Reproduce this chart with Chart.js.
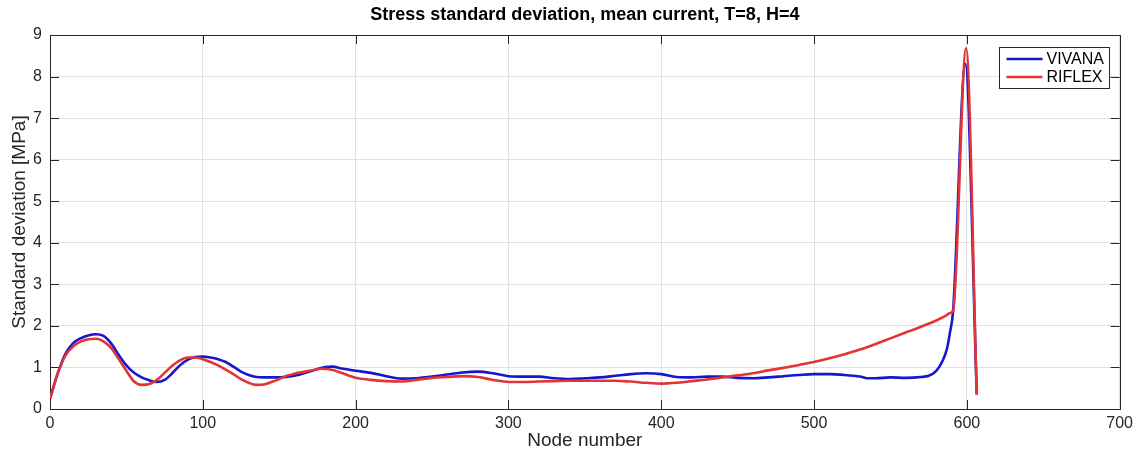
<!DOCTYPE html>
<html>
<head>
<meta charset="utf-8">
<script src="https://cdn.jsdelivr.net/npm/chart.js@4.4.1/dist/chart.umd.min.js"></script>
<style>
  html, body { margin: 0; padding: 0; background: #ffffff; }
  #wrap { width: 1138px; height: 455px; }
</style>
</head>
<body>
<div id="wrap"><canvas id="c" width="1138" height="455"></canvas></div>
<script>
// Stress standard deviation along the riser, node by node
const vivanaNodes = [0, 5, 10, 15, 20, 25, 30, 35, 40, 45, 50, 55, 60, 65, 70, 75, 80, 85, 90, 95,
  100, 105, 110, 115, 120, 125, 130, 135, 140, 150, 160, 170, 180, 185, 190, 200, 210, 220, 230, 240,
  250, 260, 270, 280, 290, 300, 310, 320, 330, 340, 350, 360, 370, 380, 390, 400, 410, 420, 430, 440,
  450, 460, 470, 480, 490, 500, 510, 520, 530, 535, 540, 550, 560, 570, 575, 580, 584, 587, 589, 591,
  599, 606.5];
const vivanaStd = [0.25, 0.85, 1.32, 1.58, 1.70, 1.77, 1.80, 1.76, 1.58, 1.30, 1.05, 0.87, 0.76, 0.69, 0.65, 0.70, 0.86, 1.05, 1.18, 1.25,
  1.26, 1.24, 1.20, 1.13, 1.02, 0.90, 0.82, 0.77, 0.76, 0.76, 0.80, 0.90, 1.01, 1.02, 0.98, 0.92, 0.87, 0.79, 0.73, 0.74,
  0.78, 0.83, 0.88, 0.90, 0.86, 0.79, 0.78, 0.78, 0.74, 0.72, 0.74, 0.76, 0.80, 0.84, 0.86, 0.84, 0.77, 0.76, 0.78, 0.78,
  0.75, 0.74, 0.76, 0.79, 0.82, 0.84, 0.84, 0.82, 0.78, 0.74, 0.74, 0.76, 0.75, 0.77, 0.80, 0.92, 1.15, 1.45, 1.85, 2.36,
  8.30, 0.35];

const riflexNodes = [0, 5, 10, 15, 20, 25, 30, 35, 40, 45, 50, 55, 60, 65, 70, 75, 80, 85, 90, 95,
  100, 105, 110, 115, 120, 125, 130, 135, 140, 145, 150, 155, 160, 170, 178, 185, 190, 200, 210, 220,
  230, 240, 250, 260, 270, 280, 290, 300, 310, 320, 330, 340, 350, 360, 370, 380, 390, 400, 410, 420,
  430, 440, 450, 460, 470, 480, 490, 500, 510, 520, 530, 540, 550, 560, 570, 580, 586, 589, 591, 599.5, 606.5];
const riflexStd = [0.25, 0.85, 1.28, 1.50, 1.62, 1.68, 1.69, 1.63, 1.47, 1.20, 0.92, 0.66, 0.58, 0.60, 0.70, 0.87, 1.04, 1.17, 1.24, 1.24,
  1.20, 1.13, 1.05, 0.95, 0.84, 0.72, 0.63, 0.58, 0.59, 0.65, 0.72, 0.80, 0.85, 0.92, 0.97, 0.94, 0.88, 0.75, 0.70, 0.67,
  0.66, 0.70, 0.75, 0.77, 0.79, 0.77, 0.70, 0.65, 0.65, 0.66, 0.67, 0.68, 0.68, 0.68, 0.68, 0.66, 0.63, 0.61, 0.63, 0.67,
  0.71, 0.76, 0.81, 0.86, 0.93, 0.99, 1.06, 1.13, 1.22, 1.32, 1.43, 1.56, 1.70, 1.84, 1.98, 2.13, 2.24, 2.31, 2.36, 8.68, 0.35];

const xTickValues = [0, 100, 200, 300, 400, 500, 600, 700];
const yTickValues = [0, 1, 2, 3, 4, 5, 6, 7, 8, 9];

const titleText = 'Stress standard deviation, mean current, T=8, H=4';
const xLabel = 'Node number';
const yLabel = 'Standard deviation [MPa]';

const FONT = "'Liberation Sans', Arial, Helvetica, sans-serif";
const AXIS_COLOR = '#262626';
const TICK_LEN = 9;

function toPoints(xs, ys) {
  return xs.map((x, i) => ({ x: x, y: ys[i] }));
}

// Axes frame with inward tick marks on all four sides
const frameAndTicks = {
  id: 'frameAndTicks',
  beforeDatasetsDraw(chart) {
    const { ctx, chartArea: a, scales: { x, y } } = chart;
    ctx.save();
    ctx.strokeStyle = AXIS_COLOR;
    ctx.lineWidth = 1;
    ctx.beginPath();
    xTickValues.forEach(v => {
      const px = Math.round(x.getPixelForValue(v)) + 0.5;
      ctx.moveTo(px, a.bottom); ctx.lineTo(px, a.bottom - TICK_LEN);
      ctx.moveTo(px, a.top); ctx.lineTo(px, a.top + TICK_LEN);
    });
    yTickValues.forEach(v => {
      const py = Math.round(y.getPixelForValue(v)) + 0.5;
      ctx.moveTo(a.left, py); ctx.lineTo(a.left + TICK_LEN, py);
      ctx.moveTo(a.right, py); ctx.lineTo(a.right - TICK_LEN, py);
    });
    ctx.stroke();
    ctx.strokeRect(Math.round(a.left) + 0.5, Math.round(a.top) + 0.5,
      Math.round(a.right - a.left), Math.round(a.bottom - a.top));
    ctx.restore();
  }
};

// Title centred over the axes
const axesTitle = {
  id: 'axesTitle',
  afterDraw(chart) {
    const { ctx, chartArea: a } = chart;
    ctx.save();
    ctx.fillStyle = '#000000';
    ctx.font = 'bold 18px ' + FONT;
    ctx.textAlign = 'center';
    ctx.textBaseline = 'middle';
    ctx.fillText(titleText, (a.left + a.right) / 2, 15);
    ctx.restore();
  }
};

// Boxed legend in the upper right corner of the axes
const boxedLegend = {
  id: 'boxedLegend',
  afterDatasetsDraw(chart) {
    const { ctx, chartArea: a } = chart;
    const boxW = 110, boxH = 41;
    const bx = Math.round(a.right - 11 - boxW) + 0.5;
    const by = Math.round(a.top + 12) + 0.5;
    ctx.save();
    ctx.fillStyle = '#ffffff';
    ctx.fillRect(bx, by, boxW, boxH);
    ctx.strokeStyle = AXIS_COLOR;
    ctx.lineWidth = 1;
    ctx.strokeRect(bx, by, boxW, boxH);
    ctx.font = '16px ' + FONT;
    ctx.textBaseline = 'middle';
    ctx.textAlign = 'left';
    chart.data.datasets.forEach((ds, i) => {
      const ly = by + 11.5 + i * 18;
      ctx.strokeStyle = ds.borderColor;
      ctx.lineWidth = ds.borderWidth;
      ctx.beginPath();
      ctx.moveTo(bx + 7, ly);
      ctx.lineTo(bx + 43, ly);
      ctx.stroke();
      ctx.fillStyle = '#000000';
      ctx.fillText(ds.label, bx + 47, ly + 1);
    });
    ctx.restore();
  }
};

new Chart(document.getElementById('c'), {
  type: 'line',
  data: {
    datasets: [
      {
        label: 'VIVANA',
        data: toPoints(vivanaNodes, vivanaStd),
        borderColor: '#1616cc',
        borderWidth: 2.6,
        pointRadius: 0,
        fill: false,
        cubicInterpolationMode: 'monotone',
        order: 1
      },
      {
        label: 'RIFLEX',
        data: toPoints(riflexNodes, riflexStd),
        borderColor: '#e23434',
        borderWidth: 2.6,
        pointRadius: 0,
        fill: false,
        cubicInterpolationMode: 'monotone',
        order: 0
      }
    ]
  },
  options: {
    responsive: false,
    animation: false,
    devicePixelRatio: 1,
    layout: { padding: { top: 35, right: 16, bottom: 0, left: 0 } },
    plugins: {
      legend: { display: false },
      title: { display: false },
      tooltip: { enabled: false }
    },
    scales: {
      x: {
        type: 'linear',
        min: 0,
        max: 700,
        afterBuildTicks(scale) { scale.ticks = xTickValues.map(v => ({ value: v })); },
        afterFit(scale) { scale.height = 46; },
        grid: { color: '#e1e1e1', lineWidth: 1, drawTicks: false },
        border: { display: false },
        ticks: { color: AXIS_COLOR, font: { family: FONT, size: 16 }, padding: 5, maxRotation: 0 },
        title: { display: true, text: xLabel, color: AXIS_COLOR, font: { family: FONT, size: 19 }, padding: { top: 0, bottom: 3 } }
      },
      y: {
        type: 'linear',
        min: 0,
        max: 9,
        afterBuildTicks(scale) { scale.ticks = yTickValues.map(v => ({ value: v })); },
        afterFit(scale) { scale.width = 50; },
        grid: { color: '#e1e1e1', lineWidth: 1, drawTicks: false },
        border: { display: false },
        ticks: { color: AXIS_COLOR, font: { family: FONT, size: 16 }, padding: 8 },
        title: { display: true, text: yLabel, color: AXIS_COLOR, font: { family: FONT, size: 19 }, padding: { top: 8, bottom: 0 } }
      }
    }
  },
  plugins: [frameAndTicks, boxedLegend, axesTitle]
});
</script>
</body>
</html>
